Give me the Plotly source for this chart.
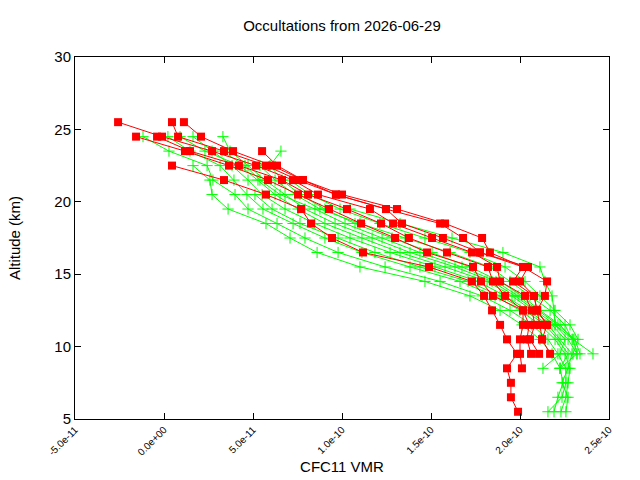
import plotly.graph_objects as go

# Altitude levels (km), shared by all profiles (index 0 = top)
ALT = [25.5, 24.5, 23.5, 22.5, 21.5, 20.5, 19.5, 18.5, 17.5, 16.5, 15.5,
       14.5, 13.5, 12.5, 11.5, 10.5, 9.5, 8.5, 7.5, 6.5, 5.5]
N = None

# CFC11 VMR values in units of 1e-10 (red = retrieved, green = comparison)
red_profiles = [
    [N, N, N, 0.045, 0.337, 0.573, 0.770, 0.826, 0.944, 1.118, 1.489, 1.730, 1.798, 1.843, 1.888, 1.927, 1.983, 1.927, 1.949, 1.949, 1.989],
    [N, -0.157, 0.118, 0.365, 0.584, 0.753, 0.927, 1.107, 1.298, 1.478, 1.736, 1.781, 1.848, 2.017, 2.017, 2.000, 2.000, 2.011, N, N, N],
    [N, -0.039, 0.146, 0.421, 0.663, 0.809, 1.028, 1.219, 1.376, 1.590, 1.820, 1.848, 1.916, 2.017, 2.051, 2.039, 2.062, N, N, N, N],
    [-0.258, -0.011, 0.270, 0.517, 0.725, 0.865, 1.157, 1.287, 1.506, 1.730, 1.871, 1.888, 2.028, 2.067, 2.084, 2.056, 2.107, N, N, N, N],
    [0.045, 0.079, 0.337, 0.573, 0.753, 0.966, 1.247, 1.337, 1.567, 1.775, 2.017, 1.961, 2.079, 2.096, 2.112, 2.124, 2.169, N, N, N, N],
    [0.112, 0.208, 0.388, 0.607, 0.781, 0.966, 1.247, 1.551, 1.680, 1.775, 2.045, 2.000, 2.079, 2.096, 2.152, N, N, N, N, N, N],
    [N, N, 0.551, 0.635, 0.781, 1.000, 1.309, 1.579, 1.787, 1.831, 2.017, 2.152, 2.140, 2.096, 2.152, 2.124, N, N, N, N, N],
]

green_profiles = [
    [N, N, N, 0.163, 0.258, 0.270, 0.360, 0.573, 0.708, 0.860, 1.101, 1.466, 1.719, 1.888, 2.011, 2.112, 2.180, 2.225, 2.242, 2.213, 2.191],
    [N, -0.118, 0.028, 0.242, 0.275, 0.399, 0.472, 0.635, 0.792, 0.978, 1.242, 1.551, 1.787, 1.944, 2.067, 2.157, 2.213, 2.258, 2.258, 2.236, 2.157],
    [N, 0.022, 0.146, 0.315, 0.393, 0.466, 0.556, 0.725, 0.904, 1.112, 1.382, 1.663, 1.860, 2.000, 2.112, 2.197, 2.253, 2.281, 2.270, 2.258, 2.230],
    [N, 0.163, 0.270, 0.382, 0.472, 0.551, 0.680, 0.848, 1.045, 1.270, 1.522, 1.764, 1.916, 2.045, 2.157, 2.225, 2.292, 2.270, 2.236, 2.270, 2.258],
    [N, 0.331, 0.371, 0.472, 0.567, 0.680, 0.792, 0.961, 1.169, 1.382, 1.635, 1.843, 1.972, 2.084, 2.197, 2.270, 2.320, 2.225, N, N, N],
    [N, N, 0.657, 0.596, 0.663, 0.764, 0.904, 1.073, 1.281, 1.506, 1.719, 1.888, 2.011, 2.112, 2.225, 2.298, 2.320, N, N, N, N],
    [N, 0.090, 0.230, 0.427, 0.528, 0.624, 0.753, 0.904, 1.112, 1.326, 1.579, 1.815, 1.955, 2.067, 2.180, 2.253, 2.225, 2.129, N, N, N],
    [N, N, 0.326, 0.455, 0.539, 0.652, 0.848, 1.017, 1.225, 1.438, 1.674, 1.865, 1.989, 2.101, 2.213, 2.309, 2.337, N, N, N, N],
    [N, N, N, 0.539, 0.624, 0.736, 0.876, 1.101, 1.354, 1.607, 1.831, 1.944, 2.056, 2.169, 2.253, 2.292, N, N, N, N, N],
    [N, N, N, N, 0.708, 0.820, 0.989, 1.213, 1.466, 1.719, 1.916, 2.028, 2.112, 2.197, 2.281, 2.326, 2.298, N, N, N, N],
    [N, N, N, N, N, N, 1.045, 1.326, 1.618, 1.904, 2.112, 2.140, 2.180, 2.191, 2.197, 2.298, 2.410, N, N, N, N],
    [N, N, N, N, N, 0.511, 0.607, 0.764, 0.978, 1.185, 1.438, 1.708, 1.888, 2.028, 2.140, 2.213, 2.270, 2.225, N, N, N],
]

UNIT = 1e-10
x_tickvals = [-5e-11, 0.0, 5e-11, 1e-10, 1.5e-10, 2e-10, 2.5e-10]
x_ticktext = ["-5.0e-11", "0.0e+00", "5.0e-11", "1.0e-10", "1.5e-10", "2.0e-10", "2.5e-10"]
y_tickvals = [5, 10, 15, 20, 25, 30]

title_text = "Occultations from 2026-06-29"
x_title = "CFC11 VMR"
y_title = "Altitude (km)"

FONT = "Liberation Sans, Arial, sans-serif"


def pairs(profile):
    xs, ys = [], []
    for v, a in zip(profile, ALT):
        if v is not None:
            xs.append(v * UNIT)
            ys.append(a)
    return xs, ys


fig = go.Figure()

for prof in green_profiles:
    xs, ys = pairs(prof)
    fig.add_trace(go.Scatter(
        x=xs, y=ys, mode="lines+markers",
        line=dict(color="#00ff00", width=1),
        marker=dict(symbol="cross-thin", size=8,
                    line=dict(color="#00ff00", width=1)),
        showlegend=False, hoverinfo="skip"))

for prof in red_profiles:
    xs, ys = pairs(prof)
    fig.add_trace(go.Scatter(
        x=xs, y=ys, mode="lines+markers",
        line=dict(color="#ff0000", width=1),
        marker=dict(symbol="square", size=8, color="#ff0000",
                    line=dict(width=0)),
        showlegend=False, hoverinfo="skip"))

axis_common = dict(
    showgrid=False, zeroline=False, showline=True, linecolor="black",
    linewidth=1, mirror="allticks", ticks="inside", ticklen=6,
    tickcolor="black", tickwidth=1, automargin=False,
)

fig.update_layout(
    width=640, height=480,
    margin=dict(l=75, r=31, t=57, b=61),
    paper_bgcolor="white", plot_bgcolor="white",
    font=dict(family=FONT, color="black"),
    title=dict(text=title_text, x=(75 + 609) / 2 / 640, xanchor="center",
               y=1 - 26 / 480, yanchor="middle",
               font=dict(size=15, family=FONT)),
    xaxis=dict(range=[-5e-11, 2.5e-10], tickvals=x_tickvals,
               ticktext=x_ticktext, tickangle=-45,
               tickfont=dict(size=10, family=FONT),
               title=dict(text=x_title, font=dict(size=15, family=FONT),
                          standoff=4),
               **axis_common),
    yaxis=dict(range=[5, 30], tickvals=y_tickvals,
               tickfont=dict(size=15, family=FONT),
               title=dict(text=y_title, font=dict(size=15, family=FONT),
                          standoff=30),
               **axis_common),
)

fig.write_html("out.html")
